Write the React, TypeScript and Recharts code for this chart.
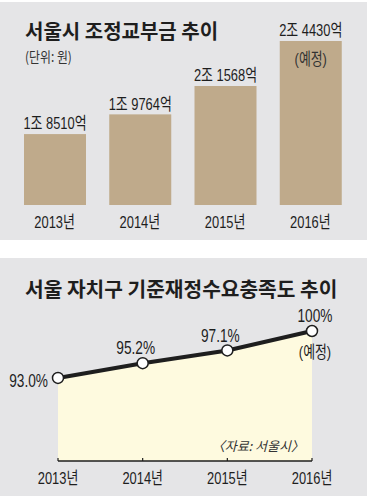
import { BarChart, Bar, XAxis, YAxis, AreaChart, Area } from "recharts";

// 서울시 조정교부금 (단위: 억 원)
const years = ["2013년", "2014년", "2015년", "2016년"];
const grants = [18510, 19764, 21568, 24430];
const grantLabels = ["1조 8510억", "1조 9764억", "2조 1568억", "2조 4430억"];
const grantNotes = ["", "", "", "(예정)"];

// 자치구 기준재정수요충족도 (%)
const ratios = [93.0, 95.2, 97.1, 100];
const ratioLabels = ["93.0%", "95.2%", "97.1%", "100%"];
const ratioNotes = ["", "", "", "(예정)"];

const BG = "#e5e5e7";
const TAN = "#bfaa8b";
const CREAM = "#fefadf";
const INK = "#1e1e1e";
const NUM = '"Liberation Sans", "Noto Sans CJK KR", sans-serif';
const KR = '"Noto Sans CJK KR", sans-serif';

const barData = years.map((y, i) => ({ year: y, value: grants[i], label: grantLabels[i], note: grantNotes[i] }));
const lineData = years.map((y, i) => ({ year: y, value: ratios[i], label: ratioLabels[i], note: ratioNotes[i] }));

// 신문 그래픽처럼 좁은 글꼴 흉내
function Narrow({ x, y, anchor = "middle", size = 17, color = INK, children }: any) {
  return (
    <text
      transform={`translate(${x},${y}) scale(0.76,1)`}
      textAnchor={anchor}
      dominantBaseline="central"
      fontFamily={NUM}
      fontSize={size}
      fill={color}
    >
      {children}
    </text>
  );
}

function YearTick(props: any) {
  const { x, y, payload, dy = 0 } = props;
  return <Narrow x={x} y={y + dy}>{payload.value}</Narrow>;
}

function GrantBar(props: any) {
  const { x, y, width, height, index } = props;
  const cx = x + width / 2;
  return (
    <g>
      <rect x={x} y={y} width={width} height={height} fill={TAN} />
      <Narrow x={cx} y={y - 11}>{barData[index].label}</Narrow>
      {barData[index].note && <Narrow x={cx} y={y + 18} color="#333">{barData[index].note}</Narrow>}
    </g>
  );
}

function RatioDot(props: any) {
  const { cx, cy, index } = props;
  const first = index === 0;
  return (
    <g key={`dot-${index}`}>
      <circle cx={cx} cy={cy} r={5.5} fill="#fff" stroke={INK} strokeWidth={1.5} />
      <Narrow
        x={first ? cx - 10 : cx - (index === 3 ? -3 : 7)}
        y={first ? cy + 3 : cy - 15}
        anchor={first ? "end" : "middle"}
        size={18}
      >
        {lineData[index].label}
      </Narrow>
      {lineData[index].note && (
        <Narrow x={cx + 3} y={cy + 21}>{lineData[index].note}</Narrow>
      )}
    </g>
  );
}

export default function App() {
  return (
    <div style={{ position: "absolute", left: 0, top: 0, width: 370, height: 496, background: "#fff" }}>
      {/* 위 패널 */}
      <div style={{ position: "absolute", left: 0, top: 2, width: 367, height: 238, background: BG }}>
        <div style={{ position: "absolute", left: 25, top: 16, fontFamily: KR, fontWeight: 700, fontSize: 20, color: INK, whiteSpace: "nowrap", lineHeight: "26px" }}>
          서울시 조정교부금 추이
        </div>
        <div style={{ position: "absolute", left: 25, top: 45, fontFamily: KR, fontSize: 14, color: "#333", whiteSpace: "nowrap", lineHeight: "18px", transform: "scaleX(0.85)", transformOrigin: "left" }}>
          (단위: 원)
        </div>
        <BarChart width={367} height={238} data={barData} margin={{ top: 39, right: 14, bottom: 0, left: 12 }}>
          <XAxis
            dataKey="year"
            axisLine={false}
            tickLine={false}
            height={35}
            tick={<YearTick dy={9} />}
          />
          <YAxis hide domain={[14000, 24430]} />
          <Bar dataKey="value" fill={TAN} barSize={62} isAnimationActive={false} shape={GrantBar} />
        </BarChart>
      </div>

      {/* 아래 패널 */}
      <div style={{ position: "absolute", left: 0, top: 258, width: 367, height: 238, background: BG }}>
        <div style={{ position: "absolute", left: 25, top: 17, fontFamily: KR, fontWeight: 700, fontSize: 20.3, color: INK, whiteSpace: "nowrap", lineHeight: "26px" }}>
          서울 자치구 기준재정수요충족도 추이
        </div>
        <AreaChart width={367} height={238} data={lineData} margin={{ top: 73, right: 55, bottom: 0, left: 58 }}>
          <XAxis
            dataKey="year"
            height={35}
            axisLine={{ stroke: INK, strokeWidth: 1.5 }}
            tickLine={{ stroke: INK, strokeWidth: 1.2 }}
            tickSize={-3}
            tickMargin={0}
            tick={<YearTick dy={20} />}
          />
          <YAxis hide domain={[80.6, 100]} />
          <Area
            type="linear"
            dataKey="value"
            stroke={INK}
            strokeWidth={4}
            fill={CREAM}
            fillOpacity={1}
            dot={RatioDot}
            activeDot={false}
            isAnimationActive={false}
          />
        </AreaChart>
        <div style={{ position: "absolute", right: 367 - 304, top: 179, fontFamily: KR, fontStyle: "italic", fontSize: 13, color: "#333", whiteSpace: "nowrap", lineHeight: "18px" }}>
          〈자료: 서울시〉
        </div>
      </div>
    </div>
  );
}
